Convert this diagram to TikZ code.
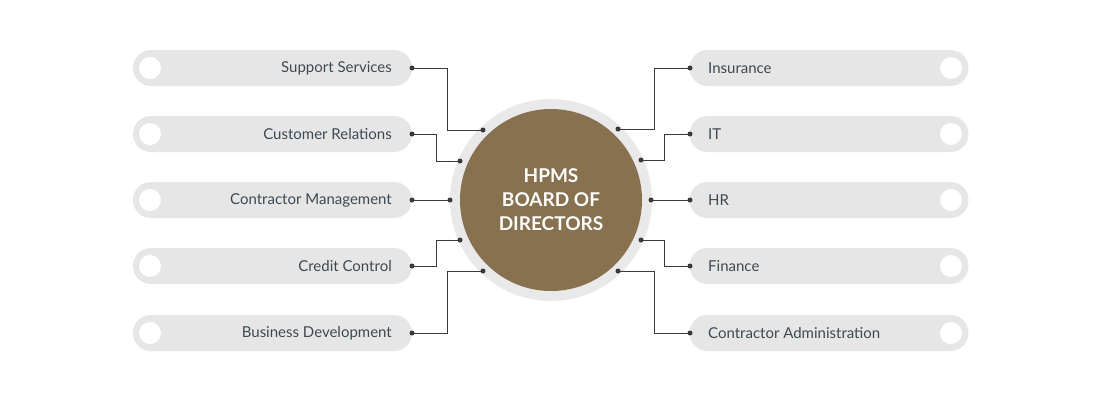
\documentclass[tikz,border=0pt]{standalone}
\usepackage{fontspec}
\setmainfont{Lato}
\definecolor{pill}{HTML}{E6E6E6}
\definecolor{brown}{HTML}{88714F}
\definecolor{txt}{HTML}{3E4A52}
\definecolor{ln}{HTML}{3A3A3A}
\begin{document}
\begin{tikzpicture}[x=1pt,y=-1pt,
  pillbox/.style={fill=pill,rounded corners=18pt,minimum width=279pt,minimum height=36pt,inner sep=0pt},
  lab/.style={text=txt,font=\fontsize{15}{15}\selectfont,inner sep=0pt},
  hole/.style={circle,fill=white,minimum size=22pt,inner sep=0pt},
  dot/.style={circle,fill=ln,minimum size=5pt,inner sep=0pt},
  conn/.style={draw=ln,line width=1pt}]
\useasboundingbox (0,0) rectangle (1100,400);
\fill[white] (0,0) rectangle (1100,400);
% center
\fill[pill!90] (551,200) circle (101);
\node[circle,fill=brown,minimum size=182pt,inner sep=0pt,align=center,text=white,font=\fontsize{19}{24}\selectfont\bfseries] (c) at (551,200) {HPMS\\BOARD OF\\DIRECTORS};
% left pills
\foreach \n/\y/\t in {ls/68/Support Services,lc/134/Customer Relations,lm/200/Contractor Management,lk/266/Credit Control,lb/333/Business Development}{
  \node[pillbox] (\n) at (272.5,\y) {};
  \node[hole] (\n h) at (150,\y) {};
  \node[lab,anchor=east] (\n t) at (392,\y) {\t};
  \node[dot] (\n d) at (412,\y) {};
}
\foreach \n/\y/\t in {ri/68/Insurance,rt/134/IT,rh/200/HR,rf/266/Finance,ra/333/Contractor Administration}{
  \node[pillbox] (\n) at (829,\y) {};
  \node[hole] (\n h) at (951,\y) {};
  \node[lab,anchor=west] (\n t) at (708,\y) {\t};
  \node[dot] (\n d) at (690,\y) {};
}
% ring dots
\node[dot] (a1) at (483,130) {};
\node[dot] (a2) at (460,161) {};
\node[dot] (a3) at (450,200) {};
\node[dot] (a4) at (460,240) {};
\node[dot] (a5) at (483,271) {};
\node[dot] (b1) at (618,129) {};
\node[dot] (b2) at (641,160) {};
\node[dot] (b3) at (651,200) {};
\node[dot] (b4) at (641,240) {};
\node[dot] (b5) at (618,271) {};
\draw[conn] (lsd.center) -| (447,130) -- (a1.center);
\draw[conn] (lcd.center) -| (436,161) -- (a2.center);
\draw[conn] (lmd.center) -- (a3.center);
\draw[conn] (lkd.center) -| (436,240) -- (a4.center);
\draw[conn] (lbd.center) -| (447,271) -- (a5.center);
\draw[conn] (rid.center) -| (654,129) -- (b1.center);
\draw[conn] (rtd.center) -| (664,160) -- (b2.center);
\draw[conn] (rhd.center) -- (b3.center);
\draw[conn] (rfd.center) -| (664,240) -- (b4.center);
\draw[conn] (rad.center) -| (654,271) -- (b5.center);
\end{tikzpicture}
\end{document}
